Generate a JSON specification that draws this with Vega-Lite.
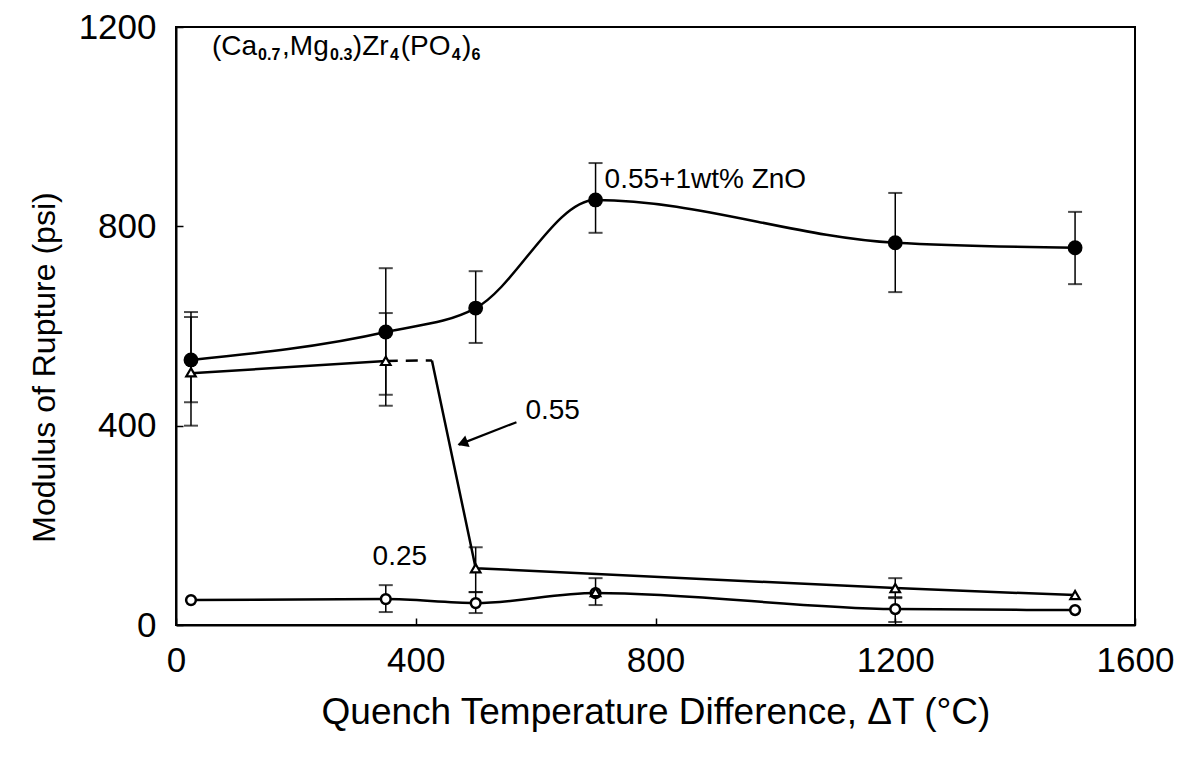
{
  "$schema": "https://vega.github.io/schema/vega-lite/v6.json",
  "width": 959,
  "height": 598,
  "autosize": {"type": "none"},
  "padding": {"left": 176, "top": 27, "right": 57, "bottom": 135},
  "background": "white",
  "datasets": {
    "pts": [
      {"series": "zno", "T": 25, "MOR": 532, "lo": 447, "hi": 628},
      {"series": "zno", "T": 350, "MOR": 588, "lo": 462, "hi": 716},
      {"series": "zno", "T": 500, "MOR": 636, "lo": 566, "hi": 710},
      {"series": "zno", "T": 700, "MOR": 853, "lo": 787, "hi": 927},
      {"series": "zno", "T": 1200, "MOR": 767, "lo": 668, "hi": 867},
      {"series": "zno", "T": 1500, "MOR": 757, "lo": 684, "hi": 829},
      {"series": "0.55", "T": 25, "MOR": 507, "lo": 400, "hi": 618},
      {"series": "0.55", "T": 350, "MOR": 530, "lo": 440, "hi": 626},
      {"series": "0.55", "T": 500, "MOR": 114, "lo": 66, "hi": 156},
      {"series": "0.55", "T": 700, "MOR": 66, "lo": null, "hi": null},
      {"series": "0.55", "T": 1200, "MOR": 74, "lo": 56, "hi": 94},
      {"series": "0.55", "T": 1500, "MOR": 60, "lo": null, "hi": null},
      {"series": "0.25", "T": 25, "MOR": 50, "lo": null, "hi": null},
      {"series": "0.25", "T": 350, "MOR": 52, "lo": 26, "hi": 80},
      {"series": "0.25", "T": 500, "MOR": 44, "lo": 24, "hi": 66},
      {"series": "0.25", "T": 700, "MOR": 64, "lo": 40, "hi": 94},
      {"series": "0.25", "T": 1200, "MOR": 32, "lo": 6, "hi": 54},
      {"series": "0.25", "T": 1500, "MOR": 30, "lo": null, "hi": null}
    ],
    "curves": [
      {"series": "zno", "part": "a", "T": 25, "MOR": 532},
      {"series": "zno", "part": "a", "T": 350, "MOR": 588},
      {"series": "zno", "part": "a", "T": 500, "MOR": 636},
      {"series": "zno", "part": "a", "T": 700, "MOR": 853},
      {"series": "zno", "part": "a", "T": 1200, "MOR": 767},
      {"series": "zno", "part": "a", "T": 1500, "MOR": 757},
      {"series": "0.25", "part": "a", "T": 25, "MOR": 50},
      {"series": "0.25", "part": "a", "T": 350, "MOR": 52},
      {"series": "0.25", "part": "a", "T": 500, "MOR": 44},
      {"series": "0.25", "part": "a", "T": 700, "MOR": 64},
      {"series": "0.25", "part": "a", "T": 1200, "MOR": 32},
      {"series": "0.25", "part": "a", "T": 1500, "MOR": 30},
      {"series": "0.55", "part": "a", "T": 25, "MOR": 505},
      {"series": "0.55", "part": "a", "T": 350, "MOR": 530},
      {"series": "0.55", "part": "b", "T": 350, "MOR": 530},
      {"series": "0.55", "part": "b", "T": 427, "MOR": 531},
      {"series": "0.55", "part": "c", "T": 427, "MOR": 531},
      {"series": "0.55", "part": "c", "T": 500, "MOR": 114},
      {"series": "0.55", "part": "c", "T": 1200, "MOR": 74},
      {"series": "0.55", "part": "c", "T": 1500, "MOR": 60}
    ],
    "formulaMain": [
      {"label": "(Ca", "T": 60, "MOR": 1144},
      {"label": ",Mg", "T": 177, "MOR": 1144},
      {"label": ")Zr", "T": 295, "MOR": 1144},
      {"label": "(PO", "T": 375, "MOR": 1144},
      {"label": ")", "T": 477, "MOR": 1144}
    ],
    "formulaSub": [
      {"label": "0.7", "T": 137, "MOR": 1134},
      {"label": "0.3", "T": 257, "MOR": 1134},
      {"label": "4", "T": 357, "MOR": 1134},
      {"label": "4", "T": 460, "MOR": 1134},
      {"label": "6", "T": 493, "MOR": 1134}
    ],
    "notes": [
      {"label": "0.55+1wt% ZnO", "T": 715, "MOR": 877},
      {"label": "0.55", "T": 583, "MOR": 413},
      {"label": "0.25", "T": 328, "MOR": 120}
    ],
    "arrow": [
      {"T": 568, "MOR": 407},
      {"T": 472, "MOR": 362}
    ],
    "arrowhead": [
      {"T": 478, "MOR": 365}
    ]
  },
  "layer": [
    {
      "data": {"name": "curves"},
      "transform": [{"filter": "datum.series != '0.55'"}],
      "mark": {"type": "line", "interpolate": "monotone", "color": "black", "strokeWidth": 2.5},
      "encoding": {
        "x": {
          "field": "T", "type": "quantitative",
          "scale": {"domain": [0, 1600], "nice": false},
          "title": "Quench Temperature Difference, ΔT (°C)",
          "axis": {
            "values": [0, 400, 800, 1200, 1600], "format": "d",
            "labelFlush": false, "labelPadding": 25, "tickSize": -7, "tickWidth": 1.5,
            "titleFontSize": 37, "titlePadding": 16, "labelFontSize": 35
          }
        },
        "y": {
          "field": "MOR", "type": "quantitative",
          "scale": {"domain": [0, 1200], "nice": false},
          "title": "Modulus of Rupture (psi)",
          "axis": {
            "values": [0, 400, 800, 1200], "format": "d",
            "labelPadding": 27, "tickSize": -7, "tickWidth": 1.5,
            "titleFontSize": 32, "titlePadding": 17, "titleY": 340, "labelFontSize": 35
          }
        },
        "detail": {"field": "series"}
      }
    },
    {
      "data": {"name": "curves"},
      "transform": [{"filter": "datum.series == '0.55' && datum.part != 'b'"}],
      "mark": {"type": "line", "interpolate": "linear", "color": "black", "strokeWidth": 2.5},
      "encoding": {
        "x": {"field": "T", "type": "quantitative", "title": "Quench Temperature Difference, ΔT (°C)"},
        "y": {"field": "MOR", "type": "quantitative", "title": "Modulus of Rupture (psi)"},
        "detail": {"field": "part"}
      }
    },
    {
      "data": {"name": "curves"},
      "transform": [{"filter": "datum.series == '0.55' && datum.part == 'b'"}],
      "mark": {"type": "line", "interpolate": "linear", "color": "black", "strokeWidth": 2.5, "strokeDash": [12, 8]},
      "encoding": {
        "x": {"field": "T", "type": "quantitative", "title": "Quench Temperature Difference, ΔT (°C)"},
        "y": {"field": "MOR", "type": "quantitative", "title": "Modulus of Rupture (psi)"}
      }
    },
    {
      "data": {"name": "pts"},
      "transform": [{"filter": "datum.lo != null"}],
      "mark": {"type": "rule", "color": "black", "strokeWidth": 1.5},
      "encoding": {
        "x": {"field": "T", "type": "quantitative", "title": "Quench Temperature Difference, ΔT (°C)"},
        "y": {"field": "lo", "type": "quantitative", "title": "Modulus of Rupture (psi)"},
        "y2": {"field": "hi"}
      }
    },
    {
      "data": {"name": "pts"},
      "transform": [
        {"filter": "datum.lo != null"},
        {"fold": ["lo", "hi"], "as": ["end", "val"]}
      ],
      "mark": {"type": "tick", "orient": "horizontal", "color": "black", "size": 14, "thickness": 2},
      "encoding": {
        "x": {"field": "T", "type": "quantitative", "title": "Quench Temperature Difference, ΔT (°C)"},
        "y": {"field": "val", "type": "quantitative", "title": "Modulus of Rupture (psi)"}
      }
    },
    {
      "data": {"name": "pts"},
      "transform": [{"filter": "datum.series == 'zno'"}],
      "mark": {"type": "point", "shape": "circle", "filled": true, "color": "black", "size": 220, "opacity": 1},
      "encoding": {
        "x": {"field": "T", "type": "quantitative", "title": "Quench Temperature Difference, ΔT (°C)"},
        "y": {"field": "MOR", "type": "quantitative", "title": "Modulus of Rupture (psi)"}
      }
    },
    {
      "data": {"name": "pts"},
      "transform": [{"filter": "datum.series == '0.25'"}],
      "mark": {"type": "point", "shape": "circle", "filled": false, "fill": "white", "fillOpacity": 1, "stroke": "black", "strokeWidth": 2.5, "size": 95, "opacity": 1},
      "encoding": {
        "x": {"field": "T", "type": "quantitative", "title": "Quench Temperature Difference, ΔT (°C)"},
        "y": {"field": "MOR", "type": "quantitative", "title": "Modulus of Rupture (psi)"}
      }
    },
    {
      "data": {"name": "pts"},
      "transform": [{"filter": "datum.series == '0.55'"}],
      "mark": {"type": "point", "shape": "triangle-up", "filled": false, "fill": "white", "fillOpacity": 1, "stroke": "black", "strokeWidth": 2.2, "size": 90, "opacity": 1},
      "encoding": {
        "x": {"field": "T", "type": "quantitative", "title": "Quench Temperature Difference, ΔT (°C)"},
        "y": {"field": "MOR", "type": "quantitative", "title": "Modulus of Rupture (psi)"}
      }
    },
    {
      "data": {"name": "arrow"},
      "mark": {"type": "line", "color": "black", "strokeWidth": 2.2},
      "encoding": {
        "x": {"field": "T", "type": "quantitative", "title": "Quench Temperature Difference, ΔT (°C)"},
        "y": {"field": "MOR", "type": "quantitative", "title": "Modulus of Rupture (psi)"}
      }
    },
    {
      "data": {"name": "arrowhead"},
      "mark": {"type": "point", "shape": "triangle-up", "filled": true, "color": "black", "size": 150, "angle": 249, "opacity": 1},
      "encoding": {
        "x": {"field": "T", "type": "quantitative", "title": "Quench Temperature Difference, ΔT (°C)"},
        "y": {"field": "MOR", "type": "quantitative", "title": "Modulus of Rupture (psi)"}
      }
    },
    {
      "data": {"name": "formulaMain"},
      "mark": {"type": "text", "align": "left", "baseline": "alphabetic", "font": "Liberation Sans", "fontSize": 28, "color": "black"},
      "encoding": {
        "x": {"field": "T", "type": "quantitative", "title": "Quench Temperature Difference, ΔT (°C)"},
        "y": {"field": "MOR", "type": "quantitative", "title": "Modulus of Rupture (psi)"},
        "text": {"field": "label"}
      }
    },
    {
      "data": {"name": "formulaSub"},
      "mark": {"type": "text", "align": "left", "baseline": "alphabetic", "font": "Liberation Sans", "fontSize": 16, "fontWeight": "bold", "color": "black"},
      "encoding": {
        "x": {"field": "T", "type": "quantitative", "title": "Quench Temperature Difference, ΔT (°C)"},
        "y": {"field": "MOR", "type": "quantitative", "title": "Modulus of Rupture (psi)"},
        "text": {"field": "label"}
      }
    },
    {
      "data": {"name": "notes"},
      "mark": {"type": "text", "align": "left", "baseline": "alphabetic", "font": "Liberation Sans", "fontSize": 28, "color": "black"},
      "encoding": {
        "x": {"field": "T", "type": "quantitative", "title": "Quench Temperature Difference, ΔT (°C)"},
        "y": {"field": "MOR", "type": "quantitative", "title": "Modulus of Rupture (psi)"},
        "text": {"field": "label"}
      }
    }
  ],
  "config": {
    "view": {"stroke": "black", "strokeWidth": 2},
    "axis": {
      "grid": false,
      "domainColor": "black",
      "domainWidth": 2,
      "tickColor": "black",
      "labelColor": "black",
      "titleColor": "black",
      "labelFont": "Liberation Sans",
      "titleFont": "Liberation Sans",
      "titleFontWeight": "normal"
    }
  }
}
